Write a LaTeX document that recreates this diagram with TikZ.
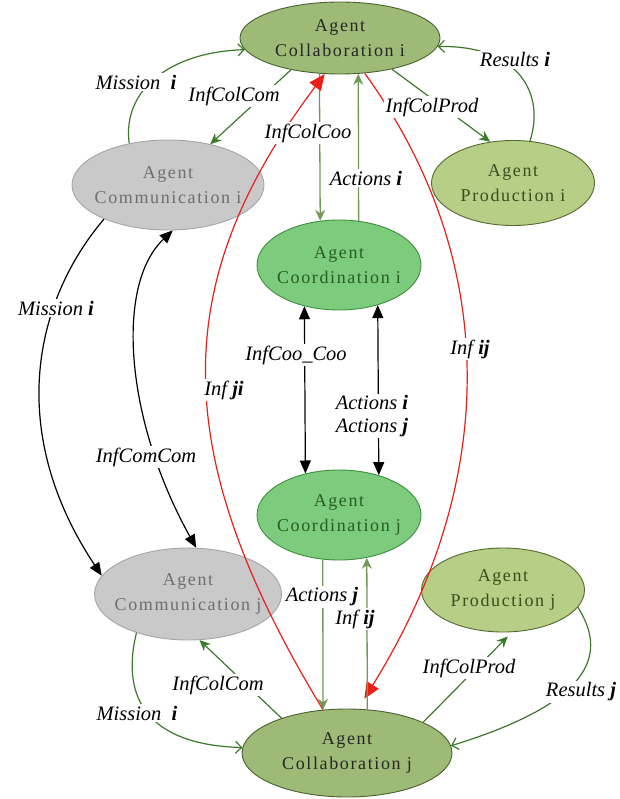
\documentclass[tikz,border=0pt]{standalone}
\usepackage{fontspec}
\setmainfont{Liberation Serif}
\newfontfamily\nodefont[LetterSpace=9]{Liberation Serif}
\usetikzlibrary{shapes.geometric,arrows.meta}
\definecolor{colfill}{HTML}{9DBA76}
\definecolor{coldraw}{HTML}{4A6030}
\definecolor{prodfill}{HTML}{B7CE86}
\definecolor{proddraw}{HTML}{55692F}
\definecolor{prodtext}{HTML}{3A4D1E}
\definecolor{coofill}{HTML}{7DCB7D}
\definecolor{coodraw}{HTML}{3E8E3E}
\definecolor{cootext}{HTML}{255F25}
\definecolor{comfill}{HTML}{C9C9C9}
\definecolor{comdraw}{HTML}{A6A6A6}
\definecolor{comtext}{HTML}{6E6E6E}
\definecolor{gdark}{HTML}{3B7A2B}
\definecolor{gline}{HTML}{6E9A55}
\definecolor{redl}{HTML}{E82018}
\newcommand\bv[1]{\textbf{#1}}
\begin{document}
\begin{tikzpicture}[x=1pt,y=-1pt,
  agent/.style={ellipse, draw, line width=0.9pt, inner sep=0pt},
  agtxt/.style={align=center, inner sep=0pt, font=\nodefont\fontsize{18}{25}\selectfont},
  collab/.style={agent, fill=colfill, draw=coldraw, minimum width=200pt, minimum height=72pt},
  comm/.style={agent, fill=comfill, draw=comdraw, minimum width=192pt, minimum height=90pt},
  prod/.style={agent, fill=prodfill, draw=proddraw, minimum width=163pt, minimum height=85pt},
  coord/.style={agent, fill=coofill, draw=coodraw, minimum width=164pt, minimum height=90pt},
  lbl/.style={fill=white, inner sep=1.5pt, font=\fontsize{20.5}{23}\selectfont\itshape},
  garr/.style={draw=gdark, line width=1.2pt, -{Stealth[length=11pt,width=10pt]}},
  gcurve/.style={draw=gdark, line width=1.2pt, -{Straight Barb[length=6pt,width=12pt,line width=1.2pt]}},
  varr/.style={draw=gline, line width=1.3pt, -{Stealth[length=11pt,width=10pt]}},
  barr/.style={draw=black, line width=1.2pt, -{Triangle[length=13pt,width=11pt]}},
  barr2/.style={draw=black, line width=1.2pt, {Triangle[length=13pt,width=11pt]}-{Triangle[length=13pt,width=11pt]}},
  rarr/.style={draw=redl, line width=1.2pt, -{Triangle[length=16pt,width=14pt]}}
]
\useasboundingbox (0,0) rectangle (619,799);

% nodes
\node[collab, label={[agtxt,text=black!85]center:{Agent\\Collaboration i}}] (coli) at (340,38) {};
\node[comm, label={[agtxt,text=comtext]center:{Agent\\Communication i}}] (comi) at (168,185) {};
\node[prod, label={[agtxt,text=prodtext]center:{Agent\\Production i}}] (prodi) at (513,183) {};
\node[coord, label={[agtxt,text=cootext]center:{Agent\\Coordination i}}] (cooi) at (339,265) {};
\node[coord, label={[agtxt,text=cootext]center:{Agent\\Coordination j}}] (cooj) at (339,515) {};
\node[comm, minimum width=187pt, minimum height=92pt, label={[agtxt,text=comtext]center:{Agent\\Communication j}}] (comj) at (188,594) {};
\node[prod, minimum height=84pt, label={[agtxt,text=prodtext]center:{Agent\\Production j}}] (prodj) at (503,590) {};
\node[collab, minimum width=210pt, minimum height=88pt, label={[agtxt,text=black!85]center:{Agent\\Collaboration j}}] (colj) at (347,753) {};

% top connectors
\draw[gcurve] (comi.133) .. controls (122,90) and (170,52) .. (coli.187);
\draw[garr] (coli.213) -- (comi.44);
\draw[garr] (coli.329) -- (prodi.119);
\draw[gcurve] (prodi.68) .. controls (545,95) and (520,45) .. (coli.355);
\draw[varr] (coli.240.5) -- (cooi.113.4);
\draw[varr] (cooi.66.6) -- (coli.297);

% red connectors
\draw[rarr] (colj.119) .. controls (165,450) and (170,280) .. (coli.247);
\draw[rarr, shorten >=12pt] (coli.305.6) .. controls (500,260) and (500,480) .. (colj.76);

% black connectors
\draw[barr2] (cooi.230.3) -- (cooj.129.7);
\draw[barr2] (cooi.314.6) -- (cooj.45.4);
\draw[barr] (comi.208) .. controls (35,300) and (5,430) .. (comj.168);
\draw[barr2] (comi.276) .. controls (115,285) and (125,420) .. (comj.80);

% bottom connectors
\draw[varr] (cooj.250) -- (colj.119);
\draw[varr] (colj.65) -- (cooj.303.5);
\draw[garr] (colj.152) -- (comj.284);
\draw[gcurve] (comj.217) .. controls (120,700) and (150,745) .. (colj.177);
\draw[garr, shorten >=6pt] (colj.22) -- (prodj.282);
\draw[gcurve] (prodj.347) .. controls (605,650) and (600,700) .. (colj.4);

% labels
\node[lbl] (l1) at (136,82) {Mission\ \ \bv{i}};
\node[lbl] (l2) at (234,96) {InfColCom};
\node[lbl] (l3) at (308,133) {InfColCoo};
\node[lbl] (l4) at (366,178) {Actions \bv{i}};
\node[lbl] (l5) at (432,107) {InfColProd};
\node[lbl] (l6) at (515,60) {Results \bv{i}};
\node[lbl] (l7) at (296,355) {InfCoo\_Coo};
\node[lbl, align=center] (l8) at (372,416) {Actions \bv{i}\\Actions \bv{j}};
\node[lbl] (l9) at (224,390) {Inf \bv{ji}};
\node[lbl] (l10) at (470,349) {Inf \bv{ij}};
\node[lbl] (l11) at (56,308) {Mission \bv{i}};
\node[lbl] (l12) at (146,457) {InfComCom};
\node[lbl] (l13) at (322,597) {Actions \bv{j}};
\node[lbl] (l14) at (355,619) {Inf \bv{ij}};
\node[lbl] (l15) at (218,685) {InfColCom};
\node[lbl] (l16) at (137,713) {Mission\ \ \bv{i}};
\node[lbl] (l17) at (469,668) {InfColProd};
\node[lbl] (l18) at (581,692) {Results \bv{j}};
\end{tikzpicture}
\end{document}
